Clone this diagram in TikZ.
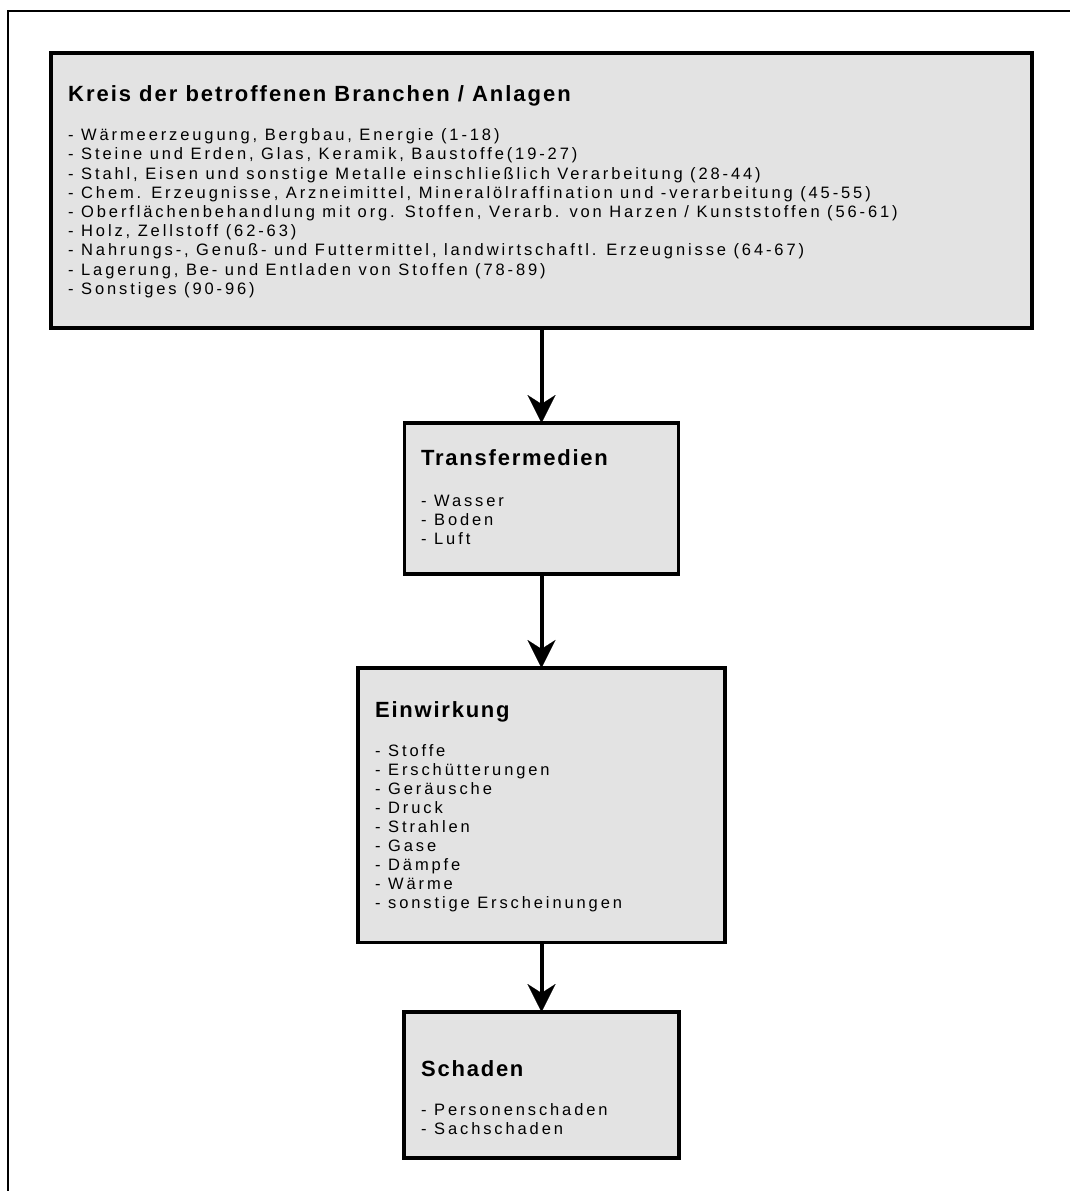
\documentclass[tikz,border=0pt]{standalone}
\usepackage{fontspec}
\setmainfont{Liberation Sans}
\newfontfamily\bodyfont[LetterSpace=17.5]{Liberation Sans}
\newfontfamily\headfont[LetterSpace=8]{Liberation Sans}
\newfontfamily\wideheadfont[LetterSpace=9]{Liberation Sans}
\usetikzlibrary{arrows.meta}
\definecolor{boxgray}{RGB}{227,227,227}
\newcommand\itemlines[1]{\vtop{\baselineskip=19pt\lineskiplimit=-20pt\lineskip=0pt #1}}
\begin{document}
\begin{tikzpicture}[x=1pt,y=-1pt,
  boxnode/.style={draw=black, line width=3.5pt, fill=boxgray, inner sep=0pt, outer sep=0pt},
  headtext/.style={anchor=base west, inner sep=0pt, font=\headfont\bfseries\fontsize{22pt}{26pt}\selectfont},
  listtext/.style={anchor=base west, inner sep=0pt, font=\bodyfont\fontsize{16.5pt}{19pt}\selectfont},
  flow/.style={draw=black, line width=4pt, -{Stealth[length=28pt,width=28pt,inset=9pt,line width=0.1pt]}},
  frame/.style={draw=black, line width=2pt}]
\useasboundingbox (0,0) rectangle (1069,1191);
\fill[white] (0,0) rectangle (1069,1191);
% outer frame (cut by the picture's right and bottom edges)
\coordinate (fbl) at (8,1200);
\coordinate (ftl) at (8,11);
\coordinate (ftr) at (1080,11);
\draw[frame] (fbl) -- (ftl) -- (ftr);

% boxes
\node[boxnode, minimum width=981pt, minimum height=275pt] (kreis) at (541.5,190.7) {};
\node[boxnode, minimum width=274pt, minimum height=151pt] (transfer) at (541.5,498.5) {};
\node[boxnode, minimum width=367pt, minimum height=274.5pt] (einw) at (541.5,805.2) {};
\node[boxnode, minimum width=275pt, minimum height=146pt] (schaden) at (541.5,1085) {};

% texts
\node[headtext, font=\wideheadfont\bfseries\fontsize{22pt}{26pt}\selectfont] (kreisT) at (68,101) {Kreis der betroffenen Branchen / Anlagen};
\node[listtext] (kreisL) at (68,140.7) {\itemlines{\baselineskip=19.2pt
  \hbox{- Wärmeerzeugung, Bergbau, Energie (1-18)}
  \hbox{- Steine und Erden, Glas, Keramik, Baustoffe(19-27)}
  \hbox{- Stahl, Eisen und sonstige Metalle einschließlich Verarbeitung (28-44)}
  \hbox{- Chem. Erzeugnisse, Arzneimittel, Mineralölraffination und -verarbeitung (45-55)}
  \hbox{- Oberflächenbehandlung mit org. Stoffen, Verarb. von Harzen / Kunststoffen (56-61)}
  \hbox{- Holz, Zellstoff (62-63)}
  \hbox{- Nahrungs-, Genuß- und Futtermittel, landwirtschaftl. Erzeugnisse (64-67)}
  \hbox{- Lagerung, Be- und Entladen von Stoffen (78-89)}
  \hbox{- Sonstiges (90-96)}}};

\node[headtext] (transferT) at (421,465) {Transfermedien};
\node[listtext] (transferL) at (421,506) {\itemlines{
  \hbox{- Wasser}
  \hbox{- Boden}
  \hbox{- Luft}}};

\node[headtext] (einwT) at (375,717) {Einwirkung};
\node[listtext] (einwL) at (375,756) {\itemlines{
  \hbox{- Stoffe}
  \hbox{- Erschütterungen}
  \hbox{- Geräusche}
  \hbox{- Druck}
  \hbox{- Strahlen}
  \hbox{- Gase}
  \hbox{- Dämpfe}
  \hbox{- Wärme}
  \hbox{- sonstige Erscheinungen}}};

\node[headtext] (schadenT) at (421,1076) {Schaden};
\node[listtext] (schadenL) at (421,1115) {\itemlines{
  \hbox{- Personenschaden}
  \hbox{- Sachschaden}}};

% connectors
\draw[flow] (kreis.south) -- (transfer.north);
\draw[flow] (transfer.south) -- (einw.north);
\draw[flow] (einw.south) -- (schaden.north);
\end{tikzpicture}
\end{document}
